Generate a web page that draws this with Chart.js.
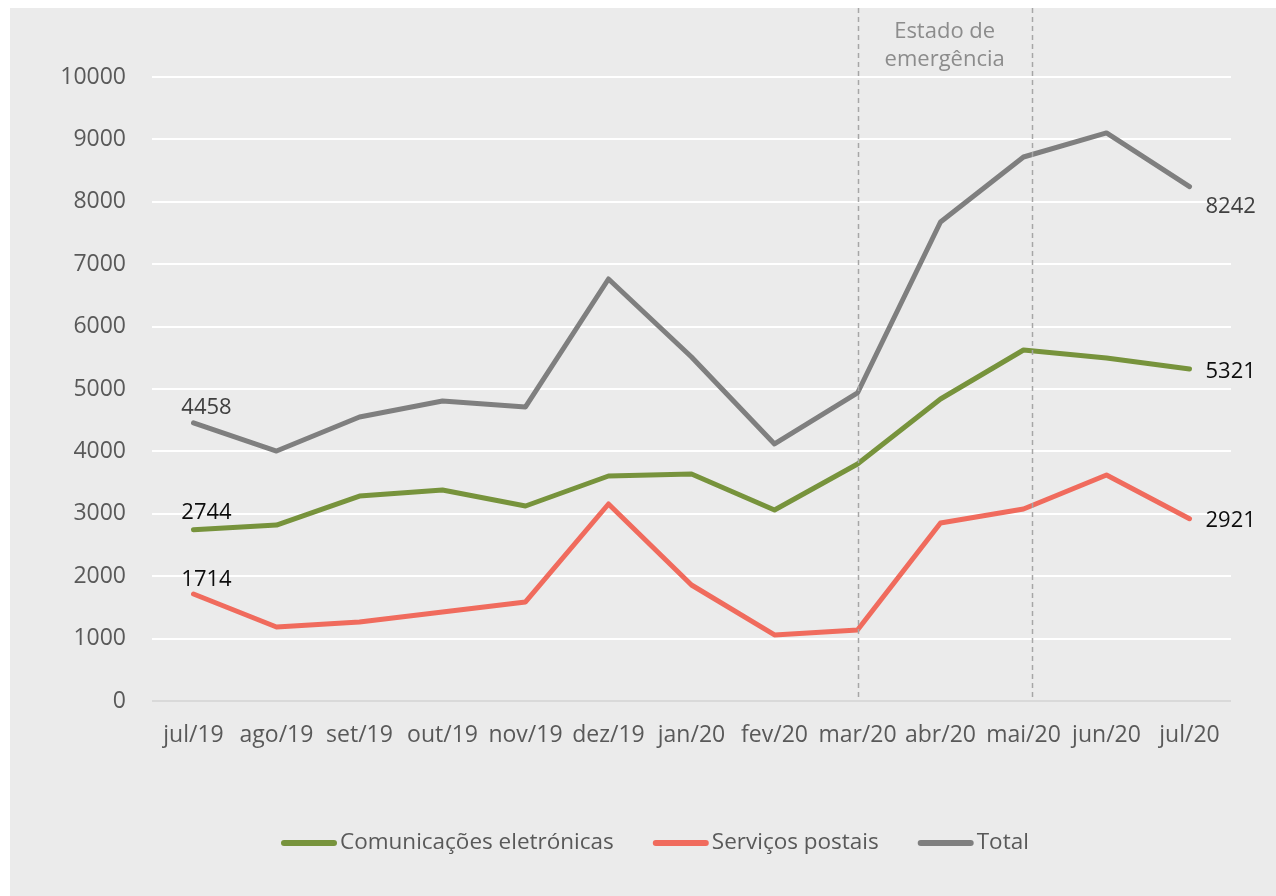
<!DOCTYPE html>
<html>
<head>
<meta charset="utf-8">
<script src="https://cdn.jsdelivr.net/npm/chart.js@4/dist/chart.umd.min.js"></script>
<style>
  html, body { margin: 0; padding: 0; background: #fff; }
  #wrap { position: absolute; left: 10px; top: 8px; width: 1266px; height: 888px; background: #ebebeb; }
</style>
</head>
<body>
<div id="wrap"><canvas id="chart" width="1266" height="888"></canvas></div>
<script>
// ----------- DATA -----------
const months = ["jul/19", "ago/19", "set/19", "out/19", "nov/19", "dez/19", "jan/20",
                "fev/20", "mar/20", "abr/20", "mai/20", "jun/20", "jul/20"];
const comunicacoes = [2744, 2820, 3285, 3381, 3125, 3606, 3638, 3061, 3798, 4840, 5625, 5497, 5321];
const postais      = [1714, 1186, 1266, 1426, 1587, 3157, 1859, 1058, 1138, 2853, 3077, 3622, 2921];
const total        = [4458, 4006, 4551, 4808, 4712, 6763, 5513, 4119, 4936, 7676, 8718, 9103, 8242];
const yTicks = [0, 1000, 2000, 3000, 4000, 5000, 6000, 7000, 8000, 9000, 10000];

const FONT = "'Open Sans', 'Noto Sans', sans-serif";
Chart.defaults.font.family = FONT;
Chart.defaults.font.size = 23;
Chart.defaults.color = "#595959";

// ----------- EMERGENCY BAND, END LABELS, LEGEND -----------
const extras = {
  id: "extras",
  afterDatasetsDraw(chart) {
    const { ctx, scales: { x }, chartArea } = chart;
    ctx.save();
    // dashed markers
    ctx.strokeStyle = "#a6a6a6";
    ctx.lineWidth = 1.5;
    ctx.setLineDash([5, 4]);
    [8, 10.1].forEach(v => {
      const px = Math.round(x.getPixelForValue(v)) + 0.5;
      ctx.beginPath();
      ctx.moveTo(px, 0);
      ctx.lineTo(px, chartArea.bottom);
      ctx.stroke();
    });
    ctx.setLineDash([]);
    const mid = (x.getPixelForValue(8) + x.getPixelForValue(10.1)) / 2;
    ctx.fillStyle = "#8c8c8c";
    ctx.font = "22px " + FONT;
    ctx.textAlign = "center";
    ctx.textBaseline = "middle";
    ctx.fillText("Estado de", mid, 24);
    ctx.fillText("emergência", mid, 52);

    // first/last value labels
    ctx.font = "22px " + FONT;
    const labelCfg = [
      { color: "#0d0d0d", first: [13, -17], last: [16, 3] },
      { color: "#0d0d0d", first: [13, -14], last: [16, 2] },
      { color: "#404040", first: [13, -15], last: [16, 20] }
    ];
    chart.data.datasets.forEach((ds, i) => {
      const meta = chart.getDatasetMeta(i);
      const cfg = labelCfg[i];
      ctx.fillStyle = cfg.color;
      ctx.textAlign = "center";
      const p0 = meta.data[0];
      ctx.fillText(String(ds.data[0]), p0.x + cfg.first[0], p0.y + cfg.first[1]);
      const n = ds.data.length - 1;
      const pn = meta.data[n];
      ctx.textAlign = "left";
      ctx.fillText(String(ds.data[n]), pn.x + cfg.last[0], pn.y + cfg.last[1]);
    });

    // legend
    ctx.font = "22.5px " + FONT;
    ctx.textAlign = "left";
    ctx.lineCap = "round";
    ctx.lineWidth = 6;
    let lx = 271;
    const ly = 835;
    chart.data.datasets.forEach(ds => {
      ctx.strokeStyle = ds.borderColor;
      ctx.beginPath();
      ctx.moveTo(lx + 3, ly);
      ctx.lineTo(lx + 53, ly);
      ctx.stroke();
      ctx.fillStyle = "#595959";
      ctx.fillText(ds.label, lx + 59, ly);
      lx += 59 + ctx.measureText(ds.label).width + 39;
    });
    ctx.restore();
  }
};

function lineSet(label, data, color) {
  return {
    label: label,
    data: data,
    borderColor: color,
    backgroundColor: color,
    borderWidth: 5,
    borderCapStyle: "round",
    borderJoinStyle: "round",
    pointRadius: 0,
    tension: 0
  };
}

// ----------- LINE CHART -----------
const ctx = document.getElementById("chart").getContext("2d");
new Chart(ctx, {
  type: "line",
  data: {
    labels: months,
    datasets: [
      lineSet("Comunicações eletrónicas", comunicacoes, "#77933c"),
      lineSet("Serviços postais", postais, "#f06b5d"),
      lineSet("Total", total, "#7f7f7f")
    ]
  },
  options: {
    responsive: false,
    animation: false,
    layout: { padding: { top: 69, right: 45, bottom: 0, left: 0 } },
    plugins: {
      tooltip: { enabled: false },
      legend: { display: false }
    },
    scales: {
      y: {
        min: 0,
        max: 10000,
        afterFit: s => { s.width = 142; },
        afterBuildTicks: s => { s.ticks = yTicks.map(v => ({ value: v })); },
        border: { display: false },
        grid: {
          drawTicks: false,
          lineWidth: 2,
          color: c => (c.tick && c.tick.value === 0 ? "#d9d9d9" : "#ffffff")
        },
        ticks: { padding: 26, color: "#595959", callback: v => String(v) }
      },
      x: {
        offset: true,
        afterFit: s => { s.height = 195; },
        border: { display: false },
        grid: { display: false, drawTicks: false, offset: true },
        ticks: { padding: 21, color: "#595959", maxRotation: 0, autoSkip: false }
      }
    }
  },
  plugins: [extras]
});
</script>
</body>
</html>
